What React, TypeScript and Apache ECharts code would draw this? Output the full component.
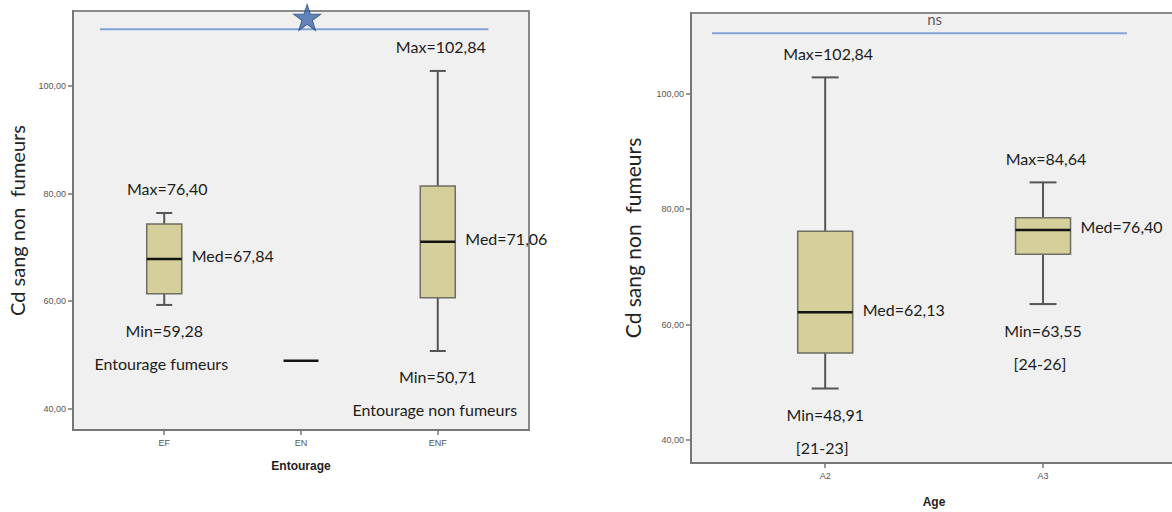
import React, { useEffect, useRef } from 'react';
import * as echarts from 'echarts';

// ---------- Data ----------
const entourageCategories = ['EF', 'EN', 'ENF'];
const entourageMin = [59.28, 48.91, 50.71];
const entourageQ1 = [61.36, 48.91, 60.6];
const entourageMedian = [67.84, 48.91, 71.06];
const entourageQ3 = [74.35, 48.91, 81.42];
const entourageMax = [76.4, 48.91, 102.84];
const entourageGroupLabels = ['Entourage fumeurs', '', 'Entourage non fumeurs'];

const ageCategories = ['A2', 'A3'];
const ageMin = [48.91, 63.55];
const ageQ1 = [55.05, 72.2];
const ageMedian = [62.13, 76.4];
const ageQ3 = [76.16, 78.52];
const ageMax = [102.84, 84.64];
const ageGroupLabels = ['[21-23]', '[24-26]'];

const yTickValues = [40, 60, 80, 100];
const yRange = [36, 114];

// significance annotations (axis units)
const entourageSig = { from: -0.47, to: 2.37, value: 110.6 };
const entourageStar = [1.045, 112.8];
const ageSig = { from: -0.52, to: 1.385, value: 110.5 };
const ageSigText = 'ns';

const fmt = (v: number) => v.toFixed(2).replace('.', ',');

const TEXT_FONT = 'Lato, "Open Sans", sans-serif';
const TEXT_COLOR = '#1c1c1c';

function buildData(mins: number[], q1: number[], med: number[], q3: number[], max: number[]) {
  return mins.map((_, i) => [i, mins[i], q1[i], med[i], q3[i], max[i]]);
}

function makeRenderItem(boxW: number, capW: number, groupLabels: string[]) {
  return (params: any, api: any) => {
    const i = params.dataIndex;
    const x = api.value(0);
    const vMin = api.value(1);
    const vQ1 = api.value(2);
    const vMed = api.value(3);
    const vQ3 = api.value(4);
    const vMax = api.value(5);
    const pMin = api.coord([x, vMin]);
    const pQ1 = api.coord([x, vQ1]);
    const pMed = api.coord([x, vMed]);
    const pQ3 = api.coord([x, vQ3]);
    const pMax = api.coord([x, vMax]);
    const cx = pMed[0];
    const hw = boxW / 2;
    const cw = capW / 2;
    const whisker = { stroke: '#555555', lineWidth: 2 };
    const children: any[] = [];
    const degenerate = Math.abs(pQ1[1] - pQ3[1]) < 1;
    if (!degenerate) {
      children.push(
        { type: 'line', shape: { x1: cx, y1: pMax[1], x2: cx, y2: pQ3[1] }, style: whisker },
        { type: 'line', shape: { x1: cx, y1: pQ1[1], x2: cx, y2: pMin[1] }, style: whisker },
        { type: 'line', shape: { x1: cx - cw, y1: pMax[1], x2: cx + cw, y2: pMax[1] }, style: whisker },
        { type: 'line', shape: { x1: cx - cw, y1: pMin[1], x2: cx + cw, y2: pMin[1] }, style: whisker },
        {
          type: 'rect',
          shape: { x: cx - hw, y: pQ3[1], width: boxW, height: pQ1[1] - pQ3[1] },
          style: { fill: '#d4cf9b', stroke: '#6e6e62', lineWidth: 1.5 },
        }
      );
    }
    children.push({
      type: 'line',
      shape: { x1: cx - hw, y1: pMed[1], x2: cx + hw, y2: pMed[1] },
      style: { stroke: '#141414', lineWidth: 2.5 },
    });
    const g = groupLabels[i];
    if (g) {
      const ts = (text: string, tx: number, ty: number, align: string) => ({
        type: 'text',
        x: tx,
        y: ty,
        style: {
          text,
          fill: TEXT_COLOR,
          fontSize: 16,
          fontFamily: TEXT_FONT,
          align,
          verticalAlign: 'middle',
        },
      });
      children.push(
        ts('Max=' + fmt(vMax), cx + 3, pMax[1] - 24, 'center'),
        ts('Med=' + fmt(vMed), cx + hw + 10, pMed[1] - 3, 'left'),
        ts('Min=' + fmt(vMin), cx, pMin[1] + 26, 'center'),
        ts(g, cx - 3, pMin[1] + 59, 'center')
      );
    }
    return { type: 'group', children };
  };
}

function xAxisFor(gridIndex: number, cats: string[], min: number, max: number, name: string, nameGap: number) {
  const vals = cats.map((_, i) => i);
  return {
    gridIndex,
    type: 'value',
    min,
    max,
    name,
    nameLocation: 'middle',
    nameGap,
    nameTextStyle: { fontWeight: 'bold', fontSize: 12, color: '#222', fontFamily: 'Liberation Sans, Arial, sans-serif' },
    axisLine: { show: true, onZero: false, lineStyle: { color: '#777', width: 2 } },
    axisTick: { show: true, customValues: vals, length: 5, lineStyle: { color: '#777', width: 1.5 } },
    axisLabel: {
      customValues: vals,
      formatter: (v: number) => cats[Math.round(v)] ?? '',
      fontSize: 9,
      color: '#555',
      margin: 8,
      fontFamily: 'Liberation Sans, Arial, sans-serif',
    },
    splitLine: { show: false },
  };
}

function yAxisFor(gridIndex: number, nameGap: number, nameSize: number) {
  return {
    gridIndex,
    type: 'value',
    min: yRange[0],
    max: yRange[1],
    name: 'Cd sang non  fumeurs',
    nameLocation: 'middle',
    nameGap,
    nameTextStyle: { fontSize: nameSize, color: '#222', fontFamily: TEXT_FONT },
    axisLine: { show: true, onZero: false, lineStyle: { color: '#777', width: 2 } },
    axisTick: { show: true, customValues: yTickValues, length: 5, lineStyle: { color: '#777', width: 1.5 } },
    axisLabel: {
      customValues: yTickValues,
      formatter: (v: number) => fmt(v),
      fontSize: 9,
      color: '#555',
      margin: 7,
      fontFamily: 'Liberation Sans, Arial, sans-serif',
    },
    splitLine: { show: false },
  };
}

export default function App() {
  const ref = useRef<HTMLDivElement>(null);
  useEffect(() => {
    if (!ref.current) return;
    const chart = echarts.init(ref.current, null, { renderer: 'svg' });
    const frame = {
      show: true,
      backgroundColor: '#f0f0f0',
      borderColor: '#8a8a8a',
      borderWidth: 2,
      outerBoundsMode: 'none',
      containLabel: false,
    };
    chart.setOption({
      animation: false,
      backgroundColor: '#ffffff',
      grid: [
        { left: 73, top: 11, width: 456, height: 419, ...frame },
        { left: 691, top: 13, width: 486, height: 450, ...frame },
      ],
      xAxis: [
        xAxisFor(0, entourageCategories, -0.667, 2.667, 'Entourage', 30),
        xAxisFor(1, ageCategories, -0.616, 1.615, 'Age', 33),
      ],
      yAxis: [yAxisFor(0, 46, 20), yAxisFor(1, 48, 21)],
      series: [
        {
          type: 'line',
          xAxisIndex: 0,
          yAxisIndex: 0,
          data: [
            [entourageSig.from, entourageSig.value],
            [entourageSig.to, entourageSig.value],
          ],
          symbol: 'none',
          lineStyle: { color: '#7fa3d4', width: 2 },
          silent: true,
        },
        {
          type: 'scatter',
          xAxisIndex: 0,
          yAxisIndex: 0,
          data: [entourageStar],
          symbol: 'path://M50,0 L61.8,35.3 L98.6,35.3 L68.8,57.1 L80,92.6 L50,70.7 L20,92.6 L31.2,57.1 L1.4,35.3 L38.2,35.3 Z',
          symbolSize: [27, 26],
          itemStyle: { color: '#3e6aab', borderColor: '#2b4d80', borderWidth: 1 },
          silent: true,
          z: 5,
        },
        {
          type: 'custom',
          xAxisIndex: 0,
          yAxisIndex: 0,
          data: buildData(entourageMin, entourageQ1, entourageMedian, entourageQ3, entourageMax),
          encode: { x: 0, y: [1, 2, 3, 4, 5] },
          renderItem: makeRenderItem(35, 16, entourageGroupLabels),
          silent: true,
          z: 4,
        },
        {
          type: 'line',
          xAxisIndex: 1,
          yAxisIndex: 1,
          data: [
            [ageSig.from, ageSig.value],
            [ageSig.to, ageSig.value],
          ],
          symbol: 'none',
          lineStyle: { color: '#7fa3d4', width: 2 },
          silent: true,
        },
        {
          type: 'scatter',
          xAxisIndex: 1,
          yAxisIndex: 1,
          data: [[(ageSig.from + ageSig.to) / 2 + 0.07, ageSig.value]],
          symbolSize: 0,
          label: {
            show: true,
            formatter: ageSigText,
            position: 'top',
            distance: 7,
            fontSize: 15,
            color: '#333',
            fontFamily: TEXT_FONT,
          },
          silent: true,
        },
        {
          type: 'custom',
          xAxisIndex: 1,
          yAxisIndex: 1,
          data: buildData(ageMin, ageQ1, ageMedian, ageQ3, ageMax),
          encode: { x: 0, y: [1, 2, 3, 4, 5] },
          renderItem: makeRenderItem(55, 27, ageGroupLabels),
          silent: true,
          z: 4,
        },
      ],
    });
    return () => chart.dispose();
  }, []);
  return (
    <div
      ref={ref}
      style={{ position: 'fixed', left: 0, top: 0, width: 1172, height: 512, background: '#fff' }}
    />
  );
}
